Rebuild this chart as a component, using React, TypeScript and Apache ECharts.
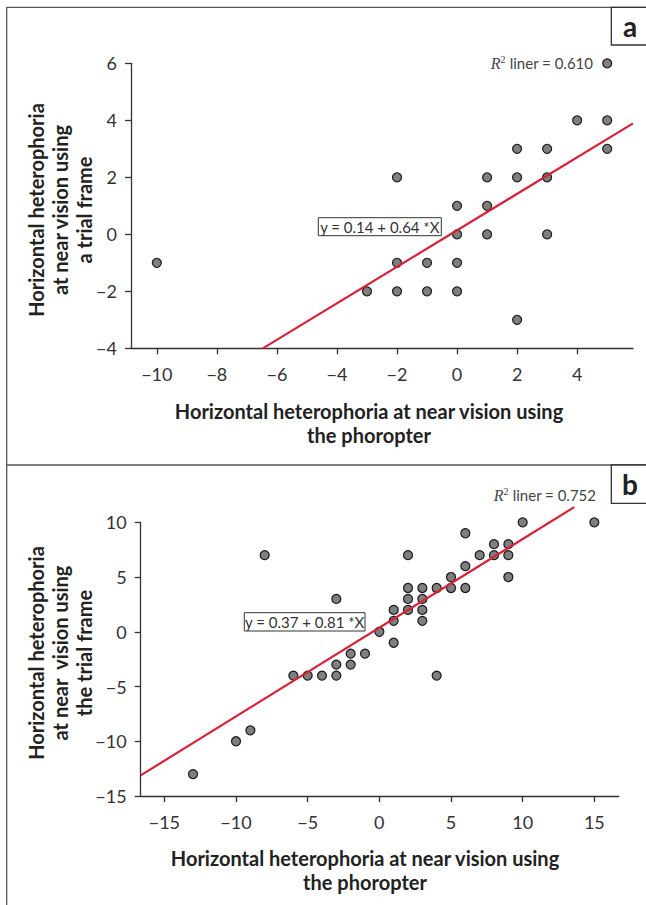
import React, { useEffect, useRef } from "react";
import * as echarts from "echarts";

// Panel a: phoropter (x) vs trial frame (y)
const phoropterA = [-10, -3, -2, -2, -2, -1, -1, 0, 0, 0, 0, 1, 1, 1, 2, 2, 2, 3, 3, 3, 4, 5, 5, 5];
const trialFrameA = [-1, -2, 2, -1, -2, -1, -2, 1, 0, -1, -2, 2, 1, 0, 3, 2, -3, 3, 2, 0, 4, 6, 4, 3];

// Panel b
const phoropterB = [
  -13, -10, -9, -8, -6, -5, -4, -3, -3, -3, -2, -2, -1,
  0, 1, 1, 1, 2, 2, 2, 2, 3, 3, 3, 3, 4, 4, 5, 5, 6, 6, 6, 7, 8, 8, 9, 9, 9, 10, 15,
];
const trialFrameB = [
  -13, -10, -9, 7, -4, -4, -4, -4, -3, 3, -2, -3, -2,
  0, -1, 1, 2, 7, 4, 3, 2, 4, 3, 2, 1, 4, -4, 5, 4, 9, 6, 4, 7, 8, 7, 8, 7, 5, 10, 10,
];

// Fit lines (intercept, slope) and the x-extent over which they are drawn
const fitA = { intercept: 0.14, slope: 0.64 };
const fitB = { intercept: 0.37, slope: 0.81 };
const fitRangeA = [-6.47, 5.86];
const fitRangeB = [-16.65, 13.6];

// Axis ranges and tick labels
const xRangeA = [-10.86, 5.86];
const yRangeA = [-4, 6];
const xTicksA = [-10, -8, -6, -4, -2, 0, 2, 4];
const xRangeB = [-16.65, 16.7];
const yRangeB = [-15, 10];
const xTicksB = [-15, -10, -5, 0, 5, 10, 15];

const r2A = "0.610";
const r2B = "0.752";

const FONT = "Lato";
const TXT = "#333";
const RED = "#d8223a";

const fmt = (v: number) => (v < 0 ? "\u2212" + Math.abs(v) : String(v));

function xAxisCfg(grid: number, range: number[], ticks: number[]) {
  return {
    type: "value",
    gridIndex: grid,
    min: range[0],
    max: range[1],
    axisLine: { show: true, onZero: false, lineStyle: { color: TXT, width: 1.3 } },
    axisTick: { show: true, customValues: ticks, length: 6, lineStyle: { color: TXT, width: 1.3 } },
    axisLabel: { customValues: ticks, formatter: fmt, margin: 17, color: TXT, fontSize: 18, fontFamily: FONT },
    splitLine: { show: false },
  };
}

function yAxisCfg(grid: number, range: number[], interval: number) {
  return {
    type: "value",
    gridIndex: grid,
    min: range[0],
    max: range[1],
    interval,
    axisLine: { show: true, onZero: false, lineStyle: { color: TXT, width: 1.3 } },
    axisTick: { show: true, length: 6, lineStyle: { color: TXT, width: 1.3 } },
    axisLabel: { formatter: fmt, margin: 14, color: TXT, fontSize: 18, fontFamily: FONT },
    splitLine: { show: false },
  };
}

function scatter(idx: number, xs: number[], ys: number[]) {
  return {
    type: "scatter",
    xAxisIndex: idx,
    yAxisIndex: idx,
    data: xs.map((x, i) => [x, ys[i]]),
    symbol: "circle",
    symbolSize: 9,
    itemStyle: { color: "#7f7f7f", borderColor: "#1a1a1a", borderWidth: 1.2, opacity: 1 },
    z: 2,
  };
}

function fitLine(idx: number, fit: { intercept: number; slope: number }, range: number[]) {
  return {
    type: "line",
    xAxisIndex: idx,
    yAxisIndex: idx,
    data: range.map((x) => [x, fit.intercept + fit.slope * x]),
    showSymbol: false,
    symbol: "none",
    clip: false,
    lineStyle: { color: RED, width: 2.2 },
    z: 3,
  };
}

function r2Text(x: number, y: number, val: string) {
  return {
    type: "text",
    x,
    y,
    style: {
      text: "{r|R}{s|2}{t| liner = " + val + "}",
      align: "right",
      verticalAlign: "middle",
      rich: {
        r: { fontFamily: "Liberation Serif", fontStyle: "italic", fontSize: 16, fill: "#444", lineHeight: 18 },
        s: { fontFamily: "Liberation Serif", fontSize: 10, fill: "#444", verticalAlign: "top", lineHeight: 18 },
        t: { fontFamily: FONT, fontSize: 15, fill: "#444", lineHeight: 18 },
      },
    },
  };
}

function eqBox(x: number, y: number, w: number, h: number, text: string) {
  return [
    {
      type: "rect",
      shape: { x, y, width: w, height: h },
      style: { fill: "#fff", stroke: "#333", lineWidth: 1 },
      z: 10,
    },
    {
      type: "text",
      x: x + w / 2,
      y: y + h / 2 + 0.5,
      style: { text, fontFamily: FONT, fontSize: 15, fill: TXT, align: "center", verticalAlign: "middle" },
      z: 11,
    },
  ];
}

function letterBox(y: number, h: number, letter: string) {
  return [
    {
      type: "rect",
      shape: { x: 611.3, y, width: 40, height: h },
      style: { fill: "#fff", stroke: "#333", lineWidth: 1.3 },
      z: 10,
    },
    {
      type: "text",
      x: 630,
      y: y + h / 2,
      style: { text: letter, fontFamily: FONT, fontWeight: "bold", fontSize: 28, fill: "#222", align: "center", verticalAlign: "middle" },
      z: 11,
    },
  ];
}

function titleText(x: number, y: number, text: string, rotate = false) {
  return {
    type: "text",
    x,
    y,
    rotation: rotate ? Math.PI / 2 : 0,
    style: {
      text,
      fontFamily: FONT,
      fontWeight: "bold",
      fontSize: 20,
      lineHeight: 24,
      fill: "#222",
      align: "center",
      verticalAlign: "middle",
    },
  };
}

export default function App() {
  const ref = useRef<HTMLDivElement>(null);
  useEffect(() => {
    if (!ref.current) return;
    const chart = echarts.init(ref.current, undefined, { renderer: "svg" });
    const border = { stroke: "#555", lineWidth: 1.3 };
    const option: any = {
      animation: false,
      backgroundColor: "#fff",
      textStyle: { fontFamily: FONT },
      grid: [
        { left: 131, top: 63.3, width: 502, height: 285 },
        { left: 140.7, top: 522.3, width: 478, height: 273.7 },
      ],
      xAxis: [xAxisCfg(0, xRangeA, xTicksA), xAxisCfg(1, xRangeB, xTicksB)],
      yAxis: [yAxisCfg(0, yRangeA, 2), yAxisCfg(1, yRangeB, 5)],
      series: [
        scatter(0, phoropterA, trialFrameA),
        fitLine(0, fitA, fitRangeA),
        scatter(1, phoropterB, trialFrameB),
        fitLine(1, fitB, fitRangeB),
      ],
      graphic: [
        { type: "line", shape: { x1: 6.7, y1: 7.3, x2: 6.7, y2: 905 }, style: border },
        { type: "line", shape: { x1: 6.7, y1: 7.3, x2: 646, y2: 7.3 }, style: border },
        { type: "line", shape: { x1: 6.7, y1: 465, x2: 646, y2: 465 }, style: border },
        ...letterBox(7.3, 37.7, "a"),
        ...letterBox(465, 38.3, "b"),
        r2Text(593, 63, r2A),
        r2Text(596, 495, r2B),
        ...eqBox(318.3, 217.7, 123, 18, "y = " + fitA.intercept.toFixed(2) + " + " + fitA.slope.toFixed(2) + " *X"),
        ...eqBox(244.3, 612.7, 120.7, 18.3, "y = " + fitB.intercept.toFixed(2) + " + " + fitB.slope.toFixed(2) + " *X"),
        titleText(369, 423, "Horizontal heterophoria at near vision using\nthe phoropter"),
        titleText(365, 870, "Horizontal heterophoria at near vision using\nthe phoropter"),
        titleText(60, 210, "Horizontal heterophoria\nat near vision using\na trial frame", true),
        titleText(60, 653, "Horizontal heterophoria\nat near  vision using\nthe trial frame", true),
      ],
    };
    chart.setOption(option);
    return () => chart.dispose();
  }, []);
  return (
    <div
      ref={ref}
      style={{ position: "absolute", left: 0, top: 0, width: 646, height: 905, background: "#fff" }}
    />
  );
}
